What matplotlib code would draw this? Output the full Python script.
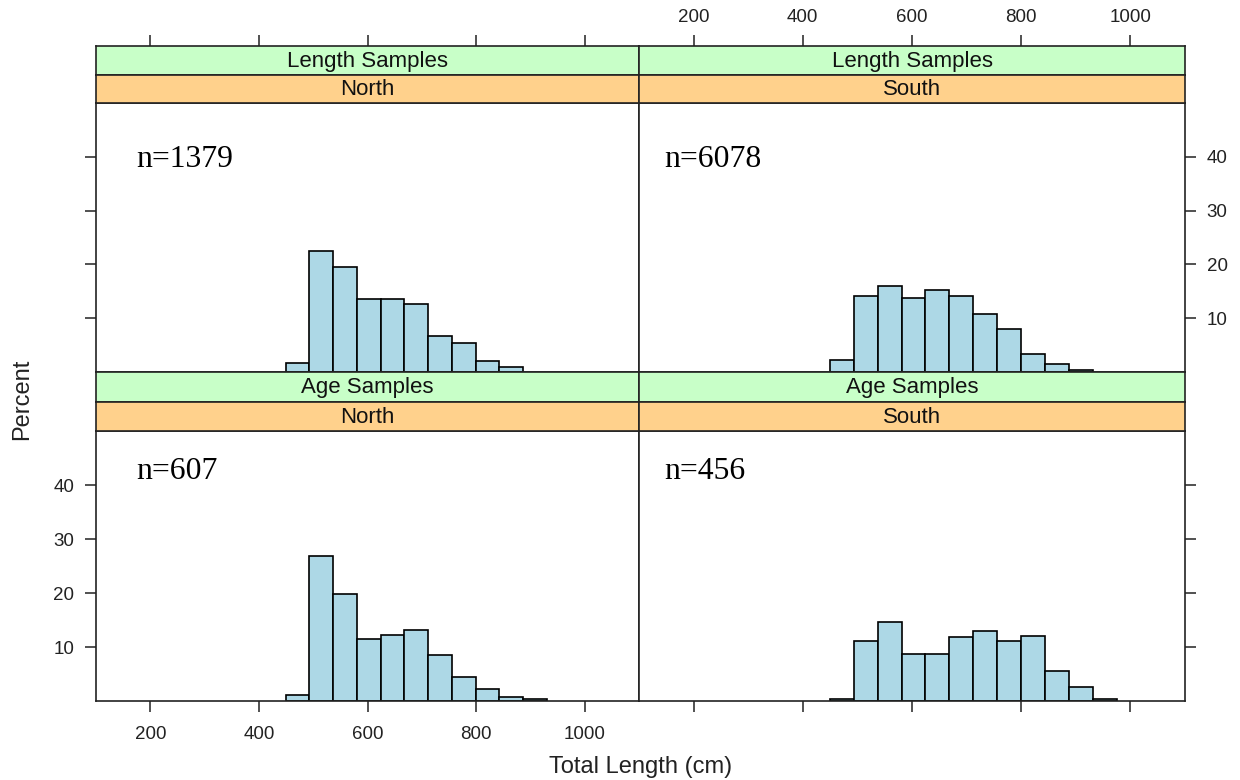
"""
Length-frequency histograms: length samples vs age samples, North and South.
Lattice-style 2x2 layout with strips on top of each panel.
"""

import numpy as np
import matplotlib
matplotlib.use("Agg")
import matplotlib.pyplot as plt

# bin edges (cm) shared by all panels
bin_edges = [449, 493, 537, 581, 624, 668, 712, 756, 800, 843, 887, 931, 975]

# percent per bin
north_length = [1.6, 22.4, 19.6, 13.6, 13.6, 12.6, 6.7, 5.3, 2.0, 1.0]
south_length = [2.3, 14.1, 15.9, 13.7, 15.3, 14.1, 10.7, 7.9, 3.3, 1.5, 0.4]
north_age = [1.1, 26.9, 19.9, 11.5, 12.2, 13.1, 8.5, 4.4, 2.3, 0.8, 0.3]
south_age = [0.4, 11.1, 14.7, 8.7, 8.7, 11.8, 12.9, 11.1, 12.1, 5.5, 2.6, 0.3]

sample_types = ["Length Samples", "Age Samples"]
regions = ["North", "South"]
sample_sizes = [["n=1379", "n=6078"], ["n=607", "n=456"]]
heights = [[north_length, south_length], [north_age, south_age]]

x_ticks = [200, 400, 600, 800, 1000]
y_ticks = [10, 20, 30, 40]

W, H = 1240, 780
GREEN = "#c8ffc8"
ORANGE = "#ffd18c"
BAR = "#add8e6"
FRAME_LW = 1.2
TICK_SIZE = 13.5
plt.rcParams['font.family'] = ['Liberation Sans', 'DejaVu Sans']


def box(x0, y0, x1, y1):
    """Pixel box (top-left origin) -> figure fraction rect."""
    return [x0 / W, 1 - y1 / H, (x1 - x0) / W, (y1 - y0) / H]


def style_frame(ax):
    for s in ax.spines.values():
        s.set_linewidth(FRAME_LW)
        s.set_color("#222222")


def add_strip(fig, rect, label, color):
    ax = fig.add_axes(rect)
    ax.set_facecolor(color)
    ax.set_xlim(100, 1100)
    ax.set_ylim(0, 1)
    ax.set_yticks([])
    ax.set_xticks([])
    style_frame(ax)
    ax.text(0.5, 0.47, label, transform=ax.transAxes, ha="center", va="center",
            fontsize=16, color="#111111")
    return ax


cols = [(96, 639), (639, 1185)]
panel_rows = [(103, 372), (431, 701)]
green_rows = [(46, 74.5), (372, 402)]
orange_rows = [(74.5, 103), (402, 431)]
# text anchor (axes fraction) per panel
n_pos = [[(0.074, 0.762), (0.046, 0.762)], [(0.074, 0.822), (0.046, 0.822)]]

fig = plt.figure(figsize=(12.4, 7.8), dpi=100)

edges = np.array(bin_edges, dtype=float)
widths = np.diff(edges)

for r in range(2):
    for c in range(2):
        x0, x1 = cols[c]
        y0, y1 = panel_rows[r]
        ax = fig.add_axes(box(x0, y0, x1, y1))
        h = heights[r][c]
        k = len(h)
        ax.bar(edges[:k], h, width=widths[:k], align="edge", color=BAR,
               edgecolor="black", linewidth=1.2, zorder=2)
        ax.set_xlim(100, 1100)
        ax.set_ylim(0, 50)
        ax.set_xticks(x_ticks)
        ax.set_yticks(y_ticks)
        style_frame(ax)
        ax.tick_params(direction="out", length=8, width=1.1, labelsize=TICK_SIZE,
                       colors="#222222", pad=7.5)
        tx, ty = n_pos[r][c]
        ax.text(tx, ty, sample_sizes[r][c], transform=ax.transAxes,
                fontsize=22.8, family=["Liberation Serif", "DejaVu Serif"],
                ha="left", va="baseline")

        # lattice-style alternating axes
        if r == 0:
            ax.tick_params(axis="x", bottom=False, labelbottom=False)
        else:
            ax.tick_params(axis="x", bottom=True, labelbottom=(c == 0), pad=10)
        if c == 0:
            ax.tick_params(axis="y", left=True, labelleft=(r == 1),
                           right=False, labelright=False)
        else:
            ax.tick_params(axis="y", left=False, labelleft=False,
                           right=True, labelright=(r == 0))

        g = add_strip(fig, box(x0, green_rows[r][0], x1, green_rows[r][1]),
                      sample_types[r], GREEN)
        add_strip(fig, box(x0, orange_rows[r][0], x1, orange_rows[r][1]),
                  regions[c], ORANGE)
        if r == 0:
            g.set_xticks(x_ticks)
            g.tick_params(axis="x", direction="out", length=8, width=1.1,
                          top=True, bottom=False, labeltop=(c == 1),
                          labelbottom=False, labelsize=TICK_SIZE,
                          colors="#222222", pad=6.5)

fig.text(641 / W, 1 - 767 / H, "Total Length (cm)", ha="center", va="center",
         fontsize=17, color="#222222")
fig.text(22 / W, 1 - 399 / H, "Percent", ha="center", va="center",
         rotation=90, fontsize=17, color="#222222")

fig.savefig("out.png", dpi=100)
plt.close(fig)
